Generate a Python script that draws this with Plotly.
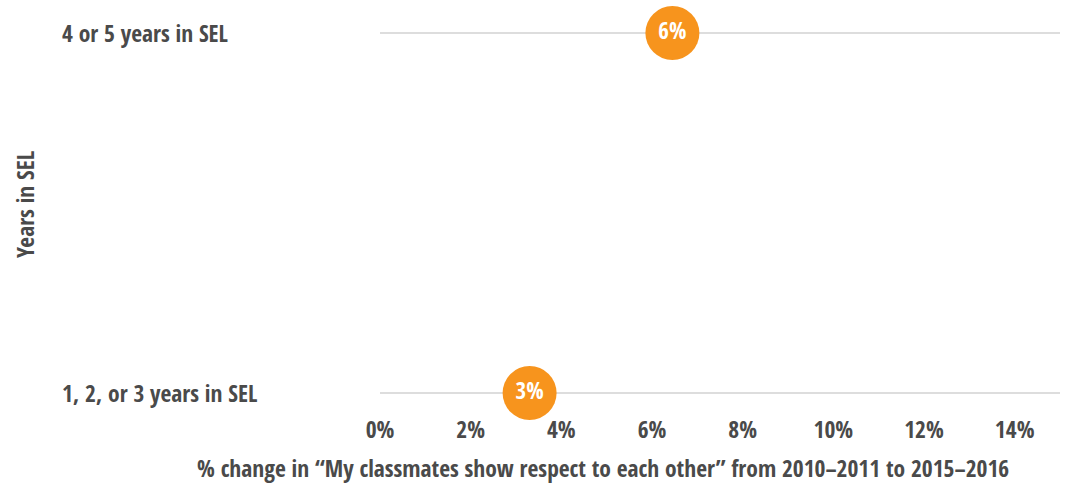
import plotly.graph_objects as go

categories = ["1, 2, or 3 years in SEL", "4 or 5 years in SEL"]
values = [3.3, 6.45]
labels = ["3%", "6%"]
x_ticks = [0, 2, 4, 6, 8, 10, 12, 14]
x_tick_text = [f"{v}%" for v in x_ticks]
x_title = "% change in \u201cMy classmates show respect to each other\u201d from 2010\u20132011 to 2015\u20132016"
y_title = "Years in SEL"

FONT = "Open Sans Condensed, Liberation Sans Narrow, DejaVu Sans Condensed, Roboto, sans-serif"
TXT = "#4a4a4a"
ORANGE = "#F7941D"

W, H = 1067, 483
L, R = 380, 7
PAD = 0.05
UNIT = 360  # px between the two categories
T = 33 - PAD * UNIT
B = (H - 393) - PAD * UNIT
pw = W - L - R
ph = H - T - B
plot_bottom = H - B

fig = go.Figure()
fig.add_trace(go.Scatter(
    x=values, y=list(range(len(categories))), mode="markers+text",
    marker=dict(size=54, color=ORANGE, line=dict(width=0)),
    text=labels, textposition="middle center",
    textfont=dict(family=FONT, size=23, color="white", weight="bold"),
    cliponaxis=False, showlegend=False, hoverinfo="skip",
))

annotations = []
for i, c in enumerate(categories):
    annotations.append(dict(
        text=f"<b>{c}</b>", xref="paper", yref="y", x=(60 - L) / pw, y=i,
        xanchor="left", yanchor="middle", showarrow=False,
        font=dict(family=FONT, size=23.5, color=TXT)))
annotations.append(dict(
    text=f"<b>{x_title}</b>", xref="paper", yref="paper",
    x=(603 - L) / pw, y=(plot_bottom - 468) / ph,
    xanchor="center", yanchor="middle", showarrow=False,
    font=dict(family=FONT, size=23.5, color=TXT)))
annotations.append(dict(
    text=f"<b>{y_title}</b>", xref="paper", yref="paper",
    x=(25 - L) / pw, y=(plot_bottom - 205) / ph, textangle=-90,
    xanchor="center", yanchor="middle", showarrow=False,
    font=dict(family=FONT, size=23.5, color=TXT)))

fig.update_layout(
    width=W, height=H, margin=dict(l=L, r=R, t=T, b=B),
    paper_bgcolor="white", plot_bgcolor="white",
    xaxis=dict(range=[0, 15], tickvals=x_ticks, ticktext=x_tick_text,
               showgrid=False, zeroline=False, showline=False,
               tickfont=dict(family=FONT, size=23.5, color=TXT, weight="bold"),
               ticklabelstandoff=2, fixedrange=True),
    yaxis=dict(range=[-PAD, 1 + PAD], tickvals=[0, 1], showticklabels=False,
               showgrid=True, gridcolor="#dddddd", gridwidth=2,
               zeroline=False, showline=False, fixedrange=True),
    annotations=annotations,
)

fig.write_html("out.html")
